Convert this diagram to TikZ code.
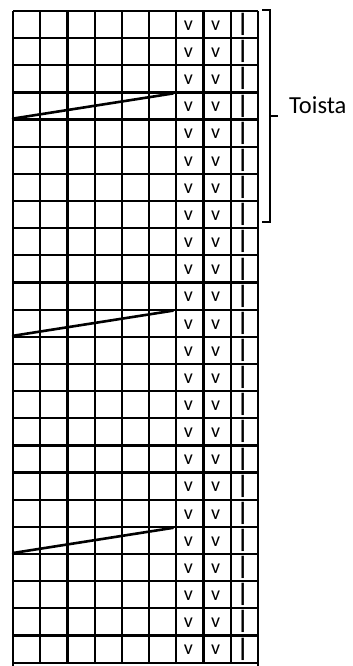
\documentclass[tikz,border=0pt]{standalone}
\usepackage{fontspec}
\setmainfont{Carlito}
\usetikzlibrary{positioning}

\begin{document}
\begin{tikzpicture}[
  x=1pt, y=-1pt,
  every node/.style={inner sep=0pt},
  gridline/.style={line width=2.2pt, black},
  rowline/.style={line width=2.6pt, line cap=round},
  bracket/.style={line width=2.2pt},
  stitchv/.style={font=\fontsize{20}{20}\selectfont},
  stitchbar/.style={font=\bfseries\fontsize{25}{25}\selectfont},
  labeltext/.style={font=\fontsize{24.5}{24.5}\selectfont, anchor=west},
]
\useasboundingbox (0,0) rectangle (353,666);

% Grid: 9 columns, 24 rows
\foreach \c in {1,...,8}
  \draw[gridline] ({13+\c*27.2},11) -- ({13+\c*27.2},662.6);
\foreach \c in {0,9}
  \draw[gridline] ({13+\c*27.2},11) -- ({13+\c*27.2},666);
\foreach \r in {0,...,24}
  \draw[gridline] (13,{11+\r*27.15}) -- (257.8,{11+\r*27.15});

% Stitch symbols
\foreach \r in {1,...,24} {
  \node[stitchv] (va-\r) at ({13+6.45*27.2},{11+(\r-0.5)*27.15+1}) {v};
  \node[stitchv] (vb-\r) at ({13+7.45*27.2},{11+(\r-0.5)*27.15+1}) {v};
  \node[stitchbar] (bar-\r) at ({13+8.45*27.2},{11+(\r-0.5)*27.15}) {|};
}

% Short rows
\foreach \r in {4,12,20} {
  \coordinate (sl-\r) at (13,{11+\r*27.15-1});
  \coordinate (sr-\r) at (173,{11+(\r-1)*27.15+1});
  \draw[rowline] (sl-\r) -- (sr-\r);
}

% Repeat bracket
\coordinate (bt) at (262,10);
\coordinate (bb) at (262,222);
\coordinate (bm) at (270,116);
\draw[bracket] (bt) -- (270,10) -- (270,222) -- (bb);
\draw[bracket] (bm) -- (278,116);
\node[labeltext] (toista) at (289,105) {Toista};

\end{tikzpicture}
\end{document}
